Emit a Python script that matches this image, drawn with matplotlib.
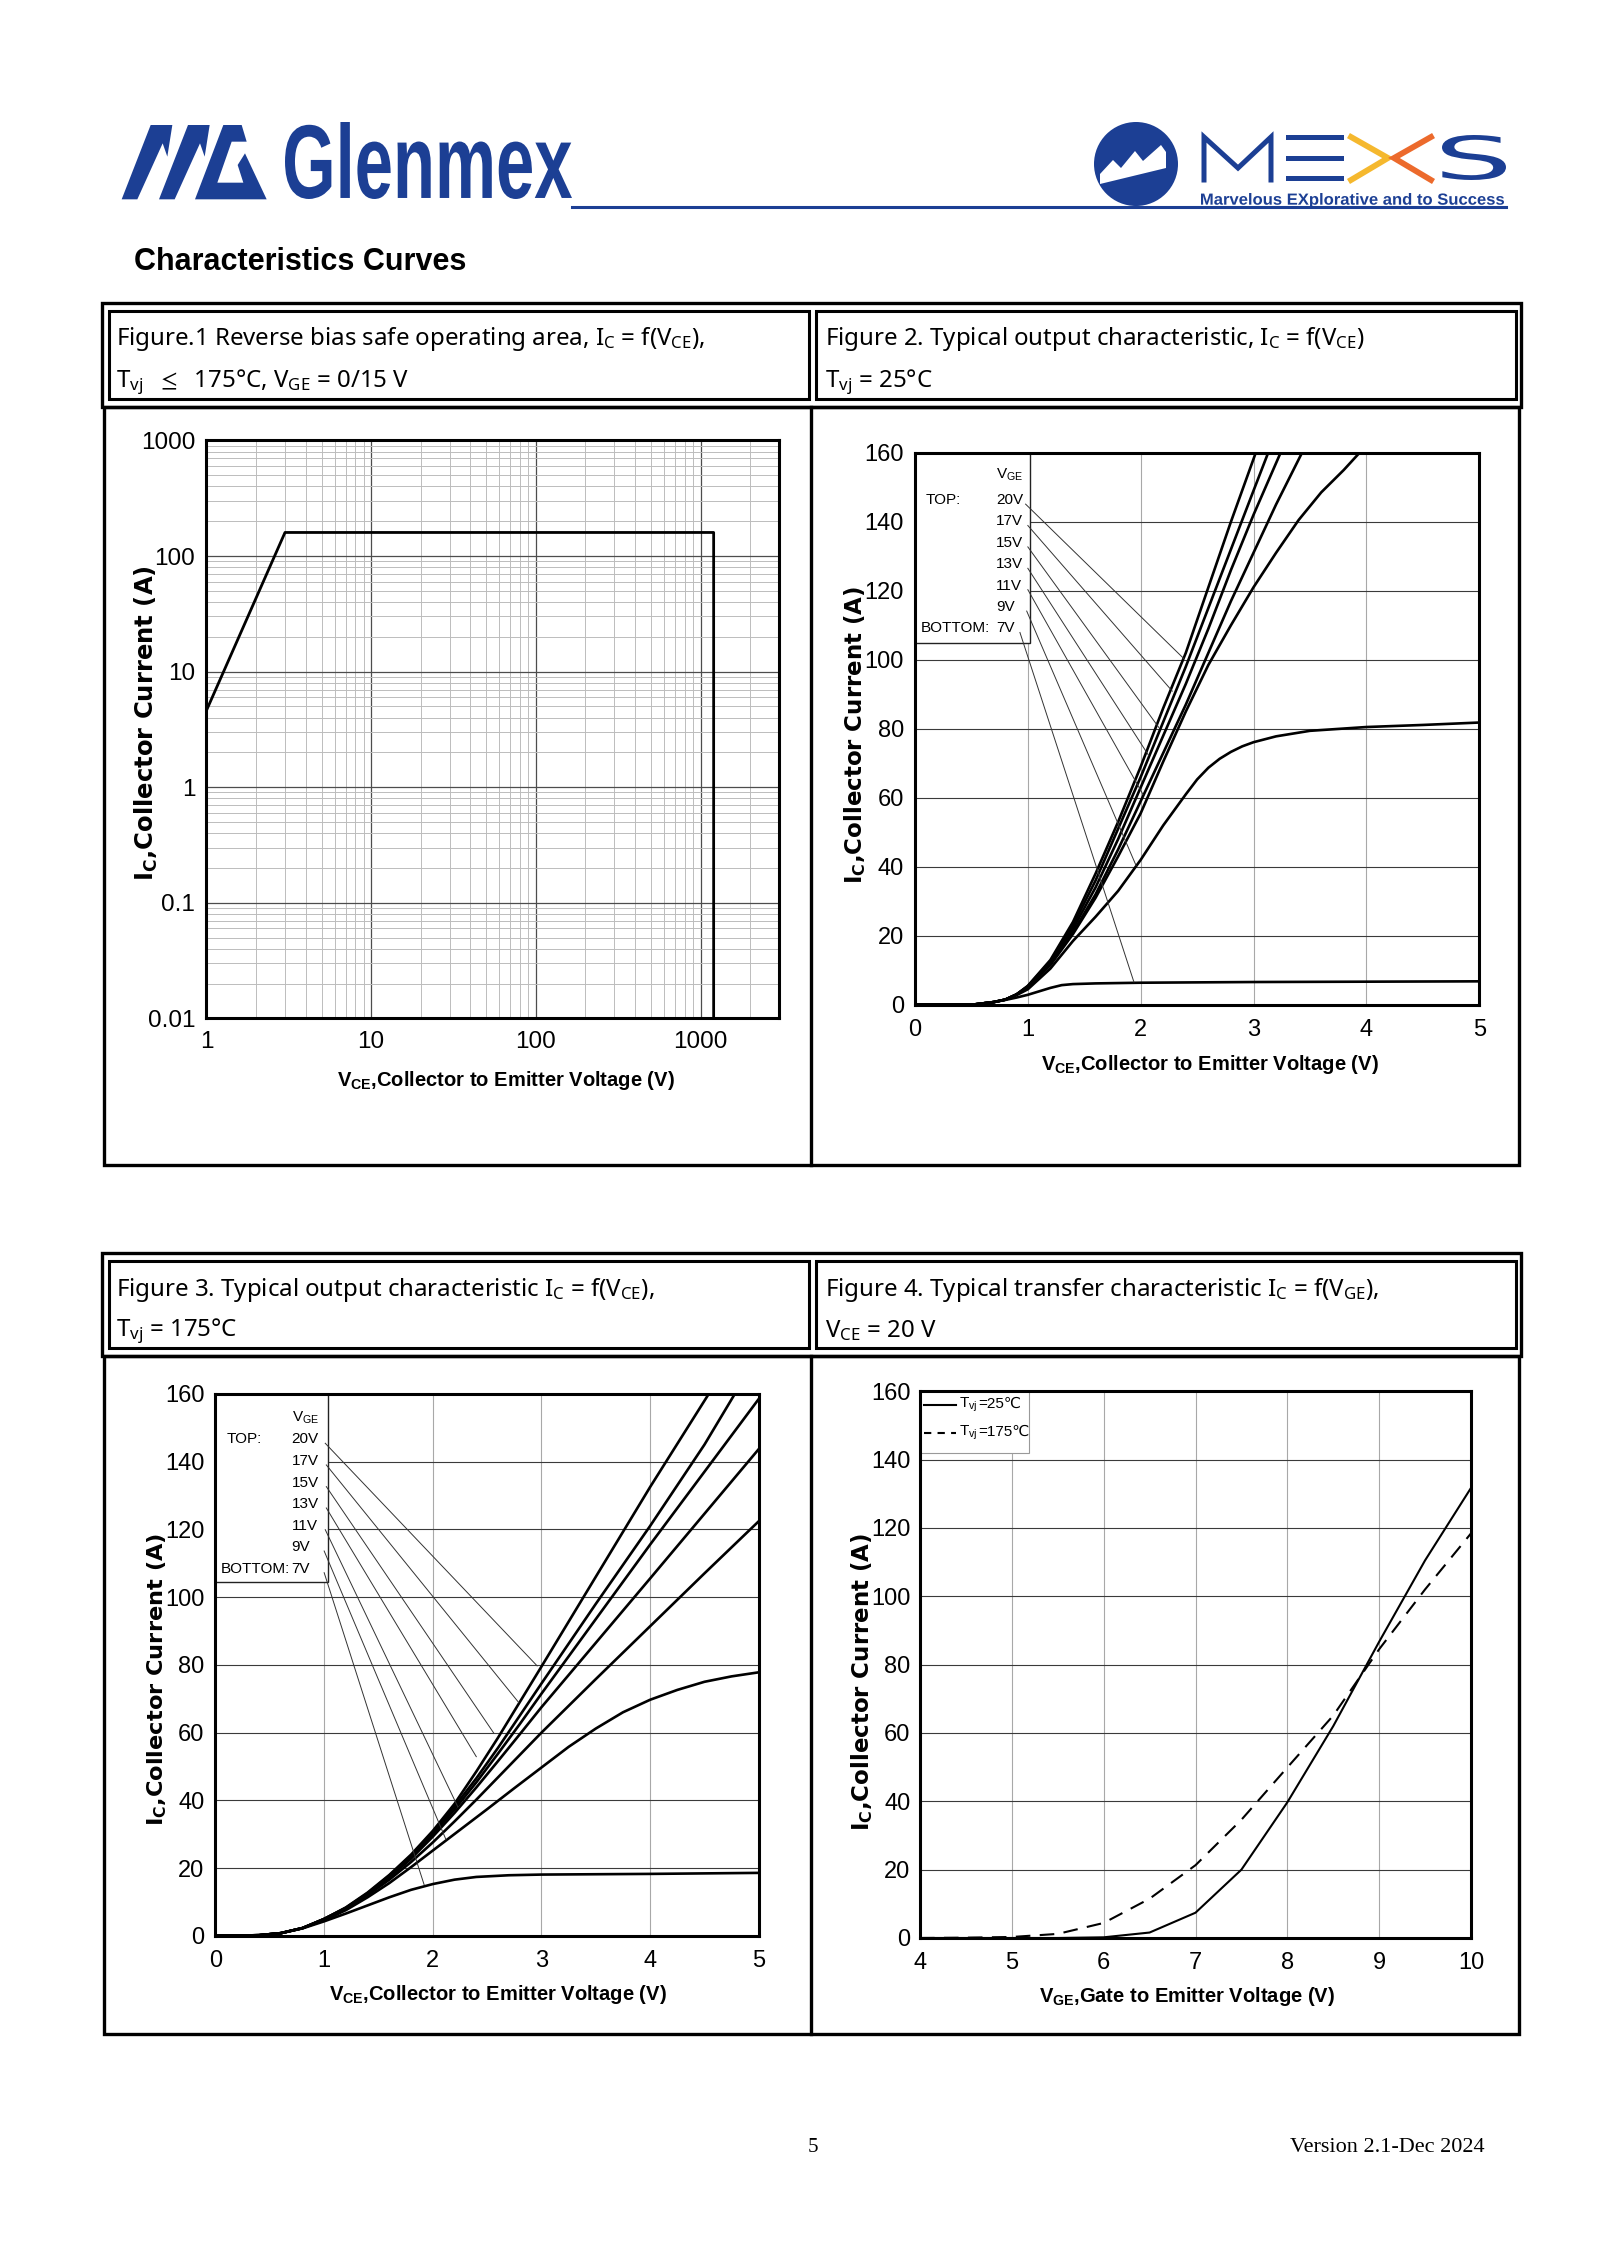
import numpy as np
import matplotlib
matplotlib.use('Agg')
import matplotlib.pyplot as plt
from matplotlib.patches import Rectangle, Polygon, Circle, PathPatch
from matplotlib.textpath import TextPath
from matplotlib.font_manager import FontProperties
from matplotlib.transforms import Affine2D
from matplotlib.offsetbox import TextArea, HPacker, AnnotationBbox
from matplotlib.ticker import LogLocator, NullFormatter

# ---------------- data ----------------
# Fig.1 RBSOA
f1_vce = [1, 3, 1200, 1200]
f1_ic = [4.6, 160, 160, 0.01]
f1_xticks = [1, 10, 100, 1000]
f1_xlabels = ['1', '10', '100', '1000']
f1_yticks = [0.01, 0.1, 1, 10, 100, 1000]
f1_ylabels = ['0.01', '0.1', '1', '10', '100', '1000']

# Fig.2 output characteristic, Tvj = 25C
f2_vce_20 = [0, 0.5, 0.7, 0.8, 0.9, 1.0, 1.2, 1.4, 1.6, 1.8, 2.0, 2.2, 2.4, 2.6, 2.8, 3.02]
f2_ic_20 = [0, 0, 0.8, 1.5, 3, 5.5, 13, 24, 38, 53, 69, 86, 102, 121, 140, 160]
f2_vce_17 = [0, 0.5, 0.7, 0.8, 0.9, 1.0, 1.2, 1.4, 1.6, 1.8, 2.0, 2.2, 2.4, 2.6, 2.8, 3.0, 3.13]
f2_ic_17 = [0, 0, 0.8, 1.5, 3, 5.4, 12.6, 23, 36, 51, 66, 82, 98, 115, 132, 149, 160]
f2_vce_15 = [0, 0.5, 0.7, 0.8, 0.9, 1.0, 1.2, 1.4, 1.6, 1.8, 2.0, 2.2, 2.4, 2.6, 2.8, 3.0, 3.24]
f2_ic_15 = [0, 0, 0.8, 1.5, 3, 5.3, 12.2, 22, 34, 48, 63, 78, 93, 109, 126, 142, 160]
f2_vce_13 = [0, 0.5, 0.7, 0.8, 0.9, 1.0, 1.2, 1.4, 1.6, 1.8, 2.0, 2.2, 2.4, 2.6, 2.8, 3.0, 3.2, 3.43]
f2_ic_13 = [0, 0, 0.8, 1.5, 3, 5.2, 11.8, 21, 32, 45, 59, 73, 87, 102, 117, 131, 145, 160]
f2_vce_11 = [0, 0.5, 0.7, 0.8, 0.9, 1.0, 1.2, 1.4, 1.6, 1.8, 2.0, 2.2, 2.4, 2.6, 2.8, 3.0, 3.2, 3.4, 3.6, 3.8, 3.94]
f2_ic_11 = [0, 0, 0.8, 1.5, 3, 5, 11.5, 20.5, 31, 43, 55.5, 70.5, 85, 98.5, 110, 121, 131, 140.5, 148.5, 155, 160]
f2_vce_9 = [0, 0.5, 0.7, 0.8, 0.9, 1.0, 1.2, 1.4, 1.6, 1.8, 2.0, 2.2, 2.4, 2.5, 2.6, 2.7, 2.8, 2.9, 3.0,
            3.2, 3.5, 4.0, 4.5, 5.0]
f2_ic_9 = [0, 0, 0.8, 1.5, 2.8, 4.5, 10.5, 18.5, 25.5, 33, 42, 52, 61, 65.3, 68.7, 71.3, 73.3, 74.9, 76.1,
           77.8, 79.4, 80.5, 81.1, 81.8]
f2_vce_7 = [0, 0.5, 0.7, 0.8, 0.9, 1.0, 1.1, 1.2, 1.3, 1.4, 1.6, 2.0, 3.0, 4.0, 5.0]
f2_ic_7 = [0, 0, 0.8, 1.4, 2.1, 2.9, 3.9, 4.9, 5.7, 6.0, 6.2, 6.4, 6.6, 6.7, 6.8]
f2_lead_x = [2.38, 2.28, 2.16, 2.07, 2.02, 1.96, 1.94]
f2_lead_y = [100.4, 90.9, 80.4, 72.3, 61, 40.3, 6.6]

# Fig.3 output characteristic, Tvj = 175C
f3_vce_20 = [0, 0.4, 0.6, 0.8, 1.0, 1.2, 1.4, 1.6, 1.8, 2.0, 2.2, 2.4, 2.6, 2.8, 3.0, 3.5, 4.0, 4.54]
f3_ic_20 = [0, 0.2, 0.8, 2.3, 5, 8.4, 12.8, 18, 24, 31, 39, 48.5, 58.5, 69, 79.5, 106, 132.5, 160]
f3_vce_17 = [0, 0.4, 0.6, 0.8, 1.0, 1.2, 1.4, 1.6, 1.8, 2.0, 2.2, 2.4, 2.6, 2.8, 3.0, 3.5, 4.0, 4.5, 4.78]
f3_ic_17 = [0, 0.2, 0.8, 2.3, 5, 8.3, 12.6, 17.8, 23.7, 30.5, 38.2, 46.5, 55.5, 65, 74.5, 98, 121, 145, 160]
f3_vce_15 = [0, 0.4, 0.6, 0.8, 1.0, 1.2, 1.4, 1.6, 1.8, 2.0, 2.2, 2.4, 2.6, 2.8, 3.0, 3.5, 4.0, 4.5, 5.0]
f3_ic_15 = [0, 0.2, 0.8, 2.3, 5, 8.2, 12.4, 17.5, 23.3, 30, 37.3, 45.3, 53.8, 62.5, 71.5, 93.5, 115.5, 137, 158.5]
f3_vce_13 = [0, 0.4, 0.6, 0.8, 1.0, 1.2, 1.4, 1.6, 1.8, 2.0, 2.2, 2.4, 2.6, 2.8, 3.0, 3.5, 4.0, 4.5, 5.0]
f3_ic_13 = [0, 0.2, 0.8, 2.3, 5, 8.1, 12.2, 17.2, 22.8, 29.3, 36.3, 43.8, 51.6, 59.5, 67.5, 86.5, 105.5, 124.6, 143.7]
f3_vce_11 = [0, 0.4, 0.6, 0.8, 1.0, 1.2, 1.4, 1.6, 1.8, 2.0, 2.2, 2.4, 2.6, 2.8, 3.0, 3.5, 4.0, 4.5, 5.0]
f3_ic_11 = [0, 0.2, 0.8, 2.3, 4.8, 8, 12, 16.6, 21.8, 27.6, 33.8, 40.2, 46.8, 53.4, 60, 75.8, 91.4, 107, 122.4]
f3_vce_9 = [0, 0.4, 0.6, 0.8, 1.0, 1.2, 1.4, 1.6, 1.8, 2.0, 2.25, 2.5, 2.75, 3.0, 3.25, 3.5, 3.75, 4.0, 4.25,
            4.5, 4.75, 5.0]
f3_ic_9 = [0, 0.2, 0.8, 2.3, 4.6, 7.6, 11.4, 15.6, 20.3, 25.2, 31.3, 37.4, 43.6, 49.7, 55.8, 61.2, 66.0, 69.7,
           72.6, 75.0, 76.6, 77.8]
f3_vce_7 = [0, 0.4, 0.6, 0.8, 1.0, 1.2, 1.4, 1.6, 1.8, 2.0, 2.2, 2.4, 2.7, 3.0, 4.0, 5.0]
f3_ic_7 = [0, 0.2, 0.8, 2.2, 4.3, 6.6, 9.0, 11.4, 13.6, 15.3, 16.6, 17.4, 17.9, 18.1, 18.3, 18.6]
f3_lead_x = [2.96, 2.79, 2.56, 2.40, 2.23, 2.12, 1.92]
f3_lead_y = [79.7, 68.9, 59.9, 52.9, 38.1, 28.5, 15.1]

vge_names = ['20V', '17V', '15V', '13V', '11V', '9V', '7V']

# Fig.4 transfer characteristic
f4_vge = [4, 4.5, 5, 5.5, 6, 6.5, 7, 7.5, 8, 8.5, 9, 9.5, 10]
f4_ic_25 = [0, 0, 0, 0, 0.2, 1.6, 7.4, 20, 39.7, 62, 86.7, 110.5, 131.7]
f4_ic_175 = [0, 0.1, 0.3, 1.2, 4.4, 11.5, 21.3, 34.6, 49.9, 65.1, 84.5, 102, 118.4]

# ---------------- page layout ----------------
W, H = 1600, 2262
BLUE = '#1c3f94'
NARROW = ['Liberation Sans Narrow', 'Liberation Sans', 'DejaVu Sans']
ARIAL = ['Liberation Sans', 'DejaVu Sans']
TITLEF = ['Noto Sans', 'DejaVu Sans']
plt.rcParams['font.family'] = NARROW
plt.rcParams['mathtext.default'] = 'regular'

fig = plt.figure(figsize=(16, 22.62), dpi=100)
page = fig.add_axes([0, 0, 1, 1])
page.set_xlim(0, W)
page.set_ylim(H, 0)
page.axis('off')


def axes_px(l, t, r, b):
    return fig.add_axes([l / W, 1 - b / H, (r - l) / W, (b - t) / H])


def fit_text(s, x0, y0, x1, y1, color, **kw):
    tp = TextPath((0, 0), s, size=100, prop=FontProperties(**kw))
    bb = tp.get_extents()
    tr = Affine2D().translate(-bb.x0, -bb.y0).scale((x1 - x0) / bb.width, -(y1 - y0) / bb.height).translate(x0, y1)
    page.add_patch(PathPatch(tr.transform_path(tp), facecolor=color, lw=0))


# header: Glenmex logo
def z12(pts):
    return [(x / 3 + 110, y / 3 + 110) for x, y in pts]

for pts in ([(35, 268), (122, 45), (187, 45), (172, 140), (158, 100), (82, 268)],
            [(147, 268), (234, 45), (299, 45), (284, 140), (270, 100), (194, 268)],
            [(255, 268), (340, 45), (395, 45), (410, 95), (365, 95), (322, 218), (400, 218),
             (383, 165), (405, 130), (470, 268)]):
    page.add_patch(Polygon(z12(pts), closed=True, facecolor=BLUE, lw=0))
fit_text('Glenmex', 285, 122, 572, 199, BLUE, family=ARIAL, weight='bold')
page.plot([572, 1506], [207, 207], color=BLUE, lw=2.2)

# MEXS logo
page.add_patch(Circle((1136, 164), 42, facecolor=BLUE, lw=0))
page.add_patch(Polygon([(1100, 174), (1113, 160), (1121, 168), (1135, 151), (1143, 161), (1161, 145),
                        (1166, 152), (1166, 168), (1100, 184)], closed=True, facecolor='white', lw=0))
page.plot([1204, 1204, 1238, 1271, 1271], [180, 137, 168, 137, 180], color=BLUE, lw=3.6, solid_joinstyle='miter')
for yy in (135, 155.5, 176):
    page.add_patch(Rectangle((1286, yy), 58, 5, facecolor=BLUE, lw=0))
page.plot([1351, 1388, 1351], [137, 158, 180], color='#f5b82e', lw=4.2, solid_joinstyle='miter')
page.plot([1431, 1394, 1431], [137, 158, 180], color='#ec6a2c', lw=4.2, solid_joinstyle='miter')
fit_text('S', 1442, 135, 1506, 180, BLUE, family=['DejaVu Sans'])
fit_text('Marvelous EXplorative and to Success', 1201, 193, 1504, 208, BLUE, family=NARROW, weight='bold')

page.text(134, 262, 'Characteristics Curves', fontsize=22, weight='bold', va='center', ha='left')

# table frames
for top, mid, bot in ((303, 407, 1165), (1253, 1356, 2034)):
    page.add_patch(Rectangle((102, top), 1419, mid - top, fill=False, ec='k', lw=2.4))
    page.add_patch(Rectangle((109, top + 8), 700, mid - top - 16, fill=False, ec='k', lw=2.2))
    page.add_patch(Rectangle((816, top + 8), 700, mid - top - 16, fill=False, ec='k', lw=2.2))
    page.add_patch(Rectangle((104, mid), 1415, bot - mid, fill=False, ec='k', lw=2.4))
    page.plot([811, 811], [mid, bot], color='k', lw=2.4)

titles = [
    (116, 339, r'Figure.1 Reverse bias safe operating area, $\mathregular{I_C}$ = f($\mathregular{V_{CE}}$),'),
    (116, 382, r'$\mathregular{T_{vj}}$  $\leq$  175°C, $\mathregular{V_{GE}}$ = 0/15 V'),
    (825, 339, r'Figure 2. Typical output characteristic, $\mathregular{I_C}$ = f($\mathregular{V_{CE}}$)'),
    (825, 382, r'$\mathregular{T_{vj}}$ = 25°C'),
    (116, 1290, r'Figure 3. Typical output characteristic $\mathregular{I_C}$ = f($\mathregular{V_{CE}}$),'),
    (116, 1331, r'$\mathregular{T_{vj}}$ = 175°C'),
    (825, 1290, r'Figure 4. Typical transfer characteristic $\mathregular{I_C}$ = f($\mathregular{V_{GE}}$),'),
    (825, 1331, r'$\mathregular{V_{CE}}$ = 20 V'),
]
for x, y, s in titles:
    page.text(x, y, s, fontsize=17.3, family=TITLEF, va='center', ha='left')

# axis labels (page coordinates)
XL = r'$\mathregular{V_{CE}}$,Collector to Emitter Voltage (V)'
YL = r'$\mathregular{I_C}$,Collector Current (A)'
for x, y, s in ((506, 1081, XL), (1210, 1065, XL), (498, 1995, XL),
                (1187, 1997, r'$\mathregular{V_{GE}}$,Gate to Emitter Voltage (V)')):
    page.text(x, y, s, fontsize=14.5, weight='bold', ha='center', va='center')
for x, y, fs in ((146, 723, 17.5), (855, 735, 16.5), (157, 1679, 16.2), (862, 1682, 16.5)):
    page.text(x, y, YL, fontsize=fs, weight='bold', family=['DejaVu Sans'], rotation=90, ha='center', va='center')

# footer
page.text(813, 2147, '5', fontsize=15, family=['Liberation Serif'], ha='center', va='center')
page.text(1485, 2147, 'Version 2.1-Dec 2024', fontsize=16, family=['Liberation Serif'], ha='right', va='center')


def frame(ax, fs, xpad, ypad):
    for sp in ax.spines.values():
        sp.set_linewidth(2.2)
    ax.tick_params(which='both', length=0, labelsize=fs)
    ax.tick_params(axis='x', pad=xpad)
    ax.tick_params(axis='y', pad=ypad)
    ax.set_axisbelow(True)


# ---------------- Figure 1 ----------------
ax1 = axes_px(206.4, 440.5, 779.2, 1018.3)
ax1.set_xscale('log')
ax1.set_yscale('log')
ax1.set_xlim(1, 3000)
ax1.set_ylim(0.01, 1000)
ax1.set_xticks(f1_xticks)
ax1.set_xticklabels(f1_xlabels)
ax1.set_yticks(f1_yticks)
ax1.set_yticklabels(f1_ylabels)
for a in (ax1.xaxis, ax1.yaxis):
    a.set_minor_locator(LogLocator(base=10, subs=np.arange(2, 10), numticks=30))
    a.set_minor_formatter(NullFormatter())
ax1.grid(which='major', color='#4d4d4d', lw=0.9)
ax1.grid(which='minor', color='#bcbcbc', lw=0.7)
frame(ax1, 17.5, 9, 8)
ax1.plot(f1_vce, f1_ic, color='k', lw=2.0)


# ---------------- Figures 2 and 3 ----------------
def output_char(ax, curves, lead_x, lead_y, lab_x, lab_y, box_w, box_b, vge_y, top_x, bot_x, start_x):
    ax.set_xlim(0, 5)
    ax.set_ylim(0, 160)
    ax.set_xticks(range(0, 6))
    ax.set_yticks(range(0, 161, 20))
    ax.grid(axis='y', color='#3a3a3a', lw=0.8)
    ax.grid(axis='x', color='#a8a8a8', lw=0.8)
    frame(ax, 17, 10, 8)
    for x, y in curves:
        ax.plot(x, y, color='k', lw=1.9)
    ax.add_patch(Rectangle((0, box_b), box_w, 160 - box_b, facecolor='white', edgecolor='#222222', lw=1.0, zorder=1.5))
    ax.text(lab_x, vge_y, r'$\mathregular{V_{GE}}$', fontsize=11, va='center', ha='left')
    ax.text(top_x, lab_y[0], 'TOP:', fontsize=11, va='center', ha='left')
    ax.text(bot_x, lab_y[-1], 'BOTTOM:', fontsize=11, va='center', ha='left')
    for i, name in enumerate(vge_names):
        ax.text(lab_x, lab_y[i], name, fontsize=11, va='center', ha='left')
        ax.plot([start_x[i], lead_x[i]], [lab_y[i] - 1.2, lead_y[i]], color='#333333', lw=0.7)


ax2 = axes_px(915, 452.7, 1479.2, 1004.8)
output_char(ax2,
            [(f2_vce_20, f2_ic_20), (f2_vce_17, f2_ic_17), (f2_vce_15, f2_ic_15), (f2_vce_13, f2_ic_13),
             (f2_vce_11, f2_ic_11), (f2_vce_9, f2_ic_9), (f2_vce_7, f2_ic_7)],
            f2_lead_x, f2_lead_y, 0.72, [146.3, 140.1, 133.9, 127.7, 121.5, 115.3, 109.1],
            1.02, 104.8, 153.5, 0.09, 0.05, [0.98, 1.0, 1.0, 1.0, 1.0, 0.99, 0.93])

ax3 = axes_px(215.5, 1393.8, 758.8, 1935.9)
output_char(ax3,
            [(f3_vce_20, f3_ic_20), (f3_vce_17, f3_ic_17), (f3_vce_15, f3_ic_15), (f3_vce_13, f3_ic_13),
             (f3_vce_11, f3_ic_11), (f3_vce_9, f3_ic_9), (f3_vce_7, f3_ic_7)],
            f3_lead_x, f3_lead_y, 0.70, [146.6, 140.2, 133.8, 127.5, 121.1, 114.8, 108.4],
            1.038, 104.4, 153.0, 0.1, 0.05, [1.01, 1.02, 1.02, 1.02, 1.01, 1.0, 1.0])

# ---------------- Figure 4 ----------------
ax4 = axes_px(920, 1391.2, 1471, 1938)
ax4.set_xlim(4, 10)
ax4.set_ylim(0, 160)
ax4.set_xticks(range(4, 11))
ax4.set_yticks(range(0, 161, 20))
ax4.grid(axis='y', color='#3a3a3a', lw=0.8)
ax4.grid(axis='x', color='#a8a8a8', lw=0.8)
frame(ax4, 17, 10, 7)
ax4.plot(f4_vge, f4_ic_25, color='k', lw=1.5)
ax4.plot(f4_vge, f4_ic_175, color='k', lw=1.5, linestyle=(0, (7, 4.5)))
ax4.add_patch(Rectangle((4, 141.9), 1.19, 18.1, facecolor='white', edgecolor='#999999', lw=0.8, zorder=1.5))
ax4.plot([4.04, 4.39], [155.9, 155.9], color='k', lw=1.5)
ax4.plot([4.04, 4.39], [147.7, 147.7], color='k', lw=1.5, linestyle=(0, (3.5, 3)))
for yy, temp in ((155.9, '=25℃'), (147.7, '=175℃')):
    pk = HPacker(children=[TextArea(r'$\mathregular{T_{vj}}$', textprops=dict(fontsize=11)),
                           TextArea(temp, textprops=dict(fontsize=11, family=NARROW + ['DejaVu Sans']))],
                 align='baseline', pad=0, sep=0)
    ab = AnnotationBbox(pk, (4.43, yy), xycoords='data', box_alignment=(0, 0.5), frameon=False, pad=0)
    ax4.add_artist(ab)

fig.savefig('out.png', dpi=100)
